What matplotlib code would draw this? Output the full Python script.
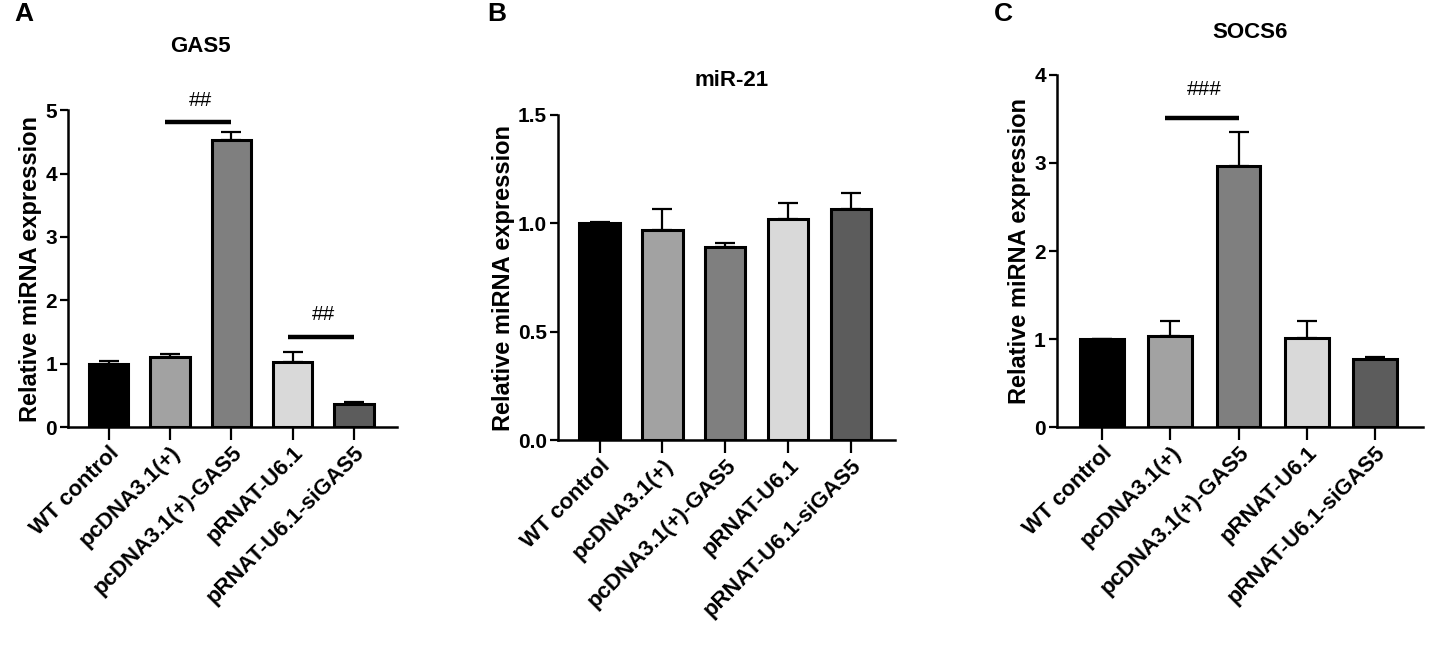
import numpy as np
import matplotlib
matplotlib.use("Agg")
import matplotlib.pyplot as plt

plt.rcParams["font.family"] = ["Liberation Sans", "DejaVu Sans"]
plt.rcParams["font.weight"] = "bold"
plt.rcParams["axes.labelweight"] = "bold"
plt.rcParams["axes.titleweight"] = "bold"

groups = ["WT control", "pcDNA3.1(+)", "pcDNA3.1(+)-GAS5", "pRNAT-U6.1", "pRNAT-U6.1-siGAS5"]
bar_colors = ["#000000", "#a2a2a2", "#7f7f7f", "#d9d9d9", "#5c5c5c"]

gas5_mean = [1.0, 1.1, 4.53, 1.03, 0.37]
gas5_err = [0.04, 0.05, 0.13, 0.15, 0.02]

mir21_mean = [1.0, 0.97, 0.89, 1.02, 1.065]
mir21_err = [0.005, 0.095, 0.02, 0.075, 0.075]

socs6_mean = [1.0, 1.04, 2.97, 1.01, 0.77]
socs6_err = [0.005, 0.16, 0.38, 0.19, 0.03]

# (title, letter, means, errors, ylim, yticks, tick labels, significance marks)
panels = [
    ("GAS5", "A", gas5_mean, gas5_err, 5, [0, 1, 2, 3, 4, 5], None,
     [(1, 2, 4.81, 5.15, "##"), (3, 4, 1.42, 1.78, "##")]),
    ("miR-21", "B", mir21_mean, mir21_err, 1.5, [0.0, 0.5, 1.0, 1.5],
     ["0.0", "0.5", "1.0", "1.5"], []),
    ("SOCS6", "C", socs6_mean, socs6_err, 4, [0, 1, 2, 3, 4], None,
     [(1, 2, 3.51, 3.83, "###")]),
]

# axes rectangles in figure fractions
rects = [
    [0.0475, 0.349, 0.2295, 0.483],
    [0.3894, 0.329, 0.2352, 0.4957],
    [0.7376, 0.349, 0.2554, 0.5367],
]
W, H = 1433, 656
letter_px = [(14, 2), (487, 2), (994, 2)]
title_px = [(200, 47), (732, 80), (1250, 33)]

fig = plt.figure(figsize=(14.33, 6.56), dpi=100)

for (title, letter, means, errs, ytop, yticks, ylabels, sigs), rect, lp, tp in zip(
        panels, rects, letter_px, title_px):
    ax = fig.add_axes(rect)
    x = np.arange(len(groups))
    ax.bar(x, means, width=0.64, color=bar_colors, edgecolor="black", linewidth=2.2, zorder=2)
    ax.errorbar(x, means, yerr=[np.zeros(len(errs)), errs], fmt="none", ecolor="black",
                elinewidth=1.6, capsize=7, capthick=1.6, zorder=1)
    ax.set_xlim(-0.66, 4.7)
    ax.set_ylim(0, ytop)
    ax.set_yticks(yticks)
    if ylabels:
        ax.set_yticklabels(ylabels)
    ax.set_xticks(x)
    ax.set_xticklabels(groups, rotation=45, ha="right", va="top", rotation_mode="anchor")
    for lab in ax.get_xticklabels():
        lab.set_fontsize(16)
    for lab in ax.get_yticklabels():
        lab.set_fontsize(15)
    ax.tick_params(axis="x", length=9, width=1.6, pad=2)
    ax.tick_params(axis="y", length=6, width=1.6, pad=2)
    for s in ["top", "right"]:
        ax.spines[s].set_visible(False)
    for s in ["left", "bottom"]:
        ax.spines[s].set_linewidth(1.8)
    ax.set_ylabel("Relative miRNA expression", fontsize=17, labelpad=2)
    for i, j, yl, yt, txt in sigs:
        ax.plot([i - 0.08, j], [yl, yl], color="black", linewidth=3.2, clip_on=False,
                solid_capstyle="butt")
        ax.text((i + j) / 2, yt, txt, ha="center", va="center", fontsize=15,
                fontweight="normal")
    fig.text(tp[0] / W, 1 - tp[1] / H, title, fontsize=16, fontweight="bold",
             ha="center", va="center")
    fig.text(lp[0] / W, 1 - lp[1] / H, letter, fontsize=19, fontweight="bold",
             ha="left", va="top")

fig.savefig("out.png", dpi=100)
